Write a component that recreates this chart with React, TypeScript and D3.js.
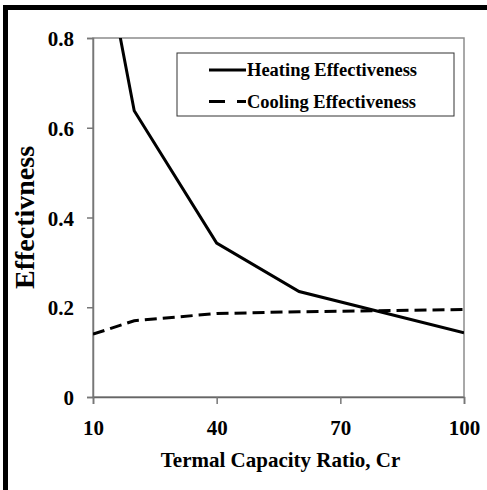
import React, { useEffect, useRef } from 'react';
import * as d3 from 'd3';

// values
const crValues = [10, 20, 40, 60, 100];
const heating = [1.12, 0.638, 0.343, 0.235, 0.143];
const cooling = [0.14, 0.17, 0.186, 0.19, 0.195];
const xTicks = [10, 40, 70, 100];
const yTicks = [0, 0.2, 0.4, 0.6, 0.8];
const seriesNames = ['Heating Effectiveness', 'Cooling Effectiveness'];

const W = 487;
const H = 490;
const margin = { top: 38, right: 23, bottom: 93, left: 93 };
const FONT = '"Liberation Serif", "Times New Roman", serif';

export default function App() {
  const ref = useRef<SVGSVGElement>(null);

  useEffect(() => {
    if (!ref.current) return;
    const svg = d3.select(ref.current);
    svg.selectAll('*').remove();

    const x = d3
      .scaleLinear()
      .domain([10, 100])
      .range([margin.left, W - margin.right]);
    const y = d3
      .scaleLinear()
      .domain([0, 0.8])
      .range([H - margin.bottom, margin.top]);

    svg.append('rect').attr('width', W).attr('height', H).attr('fill', '#fff');

    // thick outer frame (top and left only)
    svg
      .append('line')
      .attr('x1', 3)
      .attr('x2', W)
      .attr('y1', 7.5)
      .attr('y2', 7.5)
      .attr('stroke', '#000')
      .attr('stroke-width', 5);
    svg
      .append('line')
      .attr('x1', 5.5)
      .attr('x2', 5.5)
      .attr('y1', 5)
      .attr('y2', H)
      .attr('stroke', '#000')
      .attr('stroke-width', 5);

    const [x0, x1] = x.range();
    const [y0, y1] = y.range();

    // plot area border
    svg
      .append('rect')
      .attr('x', x0)
      .attr('y', y1)
      .attr('width', x1 - x0)
      .attr('height', y0 - y1)
      .attr('fill', 'none')
      .attr('stroke', '#8c8c8c')
      .attr('stroke-width', 1.5);

    // y axis
    const yAxis = svg
      .append('g')
      .attr('transform', `translate(${x0},0)`)
      .call(d3.axisLeft(y).tickValues(yTicks).tickSize(6).tickPadding(13).tickFormat(d => (d === 0 ? '0' : d3.format('.1f')(d as number))));
    yAxis.select('.domain').attr('stroke', '#777').attr('stroke-width', 1.5);
    yAxis.selectAll('line').attr('stroke', '#777').attr('stroke-width', 1.5);
    yAxis
      .selectAll('text')
      .attr('font-family', FONT)
      .attr('font-weight', 'bold')
      .attr('font-size', 21)
      .attr('fill', '#000')
      .attr('dy', '0.36em');

    // x axis
    const xAxis = svg
      .append('g')
      .attr('transform', `translate(0,${y0})`)
      .call(d3.axisBottom(x).tickValues(xTicks).tickSize(7).tickPadding(16));
    xAxis.select('.domain').attr('stroke', '#666').attr('stroke-width', 1.5);
    xAxis.selectAll('line').attr('stroke', '#777').attr('stroke-width', 1.5);
    xAxis
      .selectAll('text')
      .attr('font-family', FONT)
      .attr('font-weight', 'bold')
      .attr('font-size', 21)
      .attr('fill', '#000');

    // axis titles
    svg
      .append('text')
      .attr('x', (x0 + x1) / 2 + 2)
      .attr('y', 467)
      .attr('text-anchor', 'middle')
      .attr('font-family', FONT)
      .attr('font-weight', 'bold')
      .attr('font-size', 21)
      .text('Termal Capacity Ratio, Cr');

    svg
      .append('text')
      .attr('transform', `translate(34,${(y0 + y1) / 2}) rotate(-90)`)
      .attr('text-anchor', 'middle')
      .attr('font-family', FONT)
      .attr('font-weight', 'bold')
      .attr('font-size', 28)
      .text('Effectivness');

    // clip for lines
    svg
      .append('clipPath')
      .attr('id', 'plot-clip')
      .append('rect')
      .attr('x', x0)
      .attr('y', y1)
      .attr('width', x1 - x0)
      .attr('height', y0 - y1);

    const line = d3
      .line<number>()
      .x((_, i) => x(crValues[i]))
      .y(d => y(d));

    const plot = svg.append('g').attr('clip-path', 'url(#plot-clip)');
    plot
      .append('path')
      .datum(heating)
      .attr('d', line)
      .attr('fill', 'none')
      .attr('stroke', '#000')
      .attr('stroke-width', 3);
    plot
      .append('path')
      .datum(cooling)
      .attr('d', line)
      .attr('fill', 'none')
      .attr('stroke', '#000')
      .attr('stroke-width', 3)
      .attr('stroke-dasharray', '12,6');

    // legend
    const legend = svg.append('g');
    legend
      .append('rect')
      .attr('x', 177)
      .attr('y', 53)
      .attr('width', 277)
      .attr('height', 63)
      .attr('fill', '#fff')
      .attr('stroke', '#333')
      .attr('stroke-width', 1);

    seriesNames.forEach((name, i) => {
      const ly = 70 + i * 31.5;
      legend
        .append('line')
        .attr('x1', 209)
        .attr('x2', 246)
        .attr('y1', ly)
        .attr('y2', ly)
        .attr('stroke', '#000')
        .attr('stroke-width', 3)
        .attr('stroke-dasharray', i === 1 ? '16,12' : null);
      legend
        .append('text')
        .attr('x', 247)
        .attr('y', ly)
        .attr('dy', '0.34em')
        .attr('font-family', FONT)
        .attr('font-weight', 'bold')
        .attr('font-size', 18.5)
        .text(name);
    });
  }, []);

  return (
    <svg
      ref={ref}
      width={W}
      height={H}
      style={{ position: 'absolute', left: 0, top: 0, display: 'block' }}
    />
  );
}
